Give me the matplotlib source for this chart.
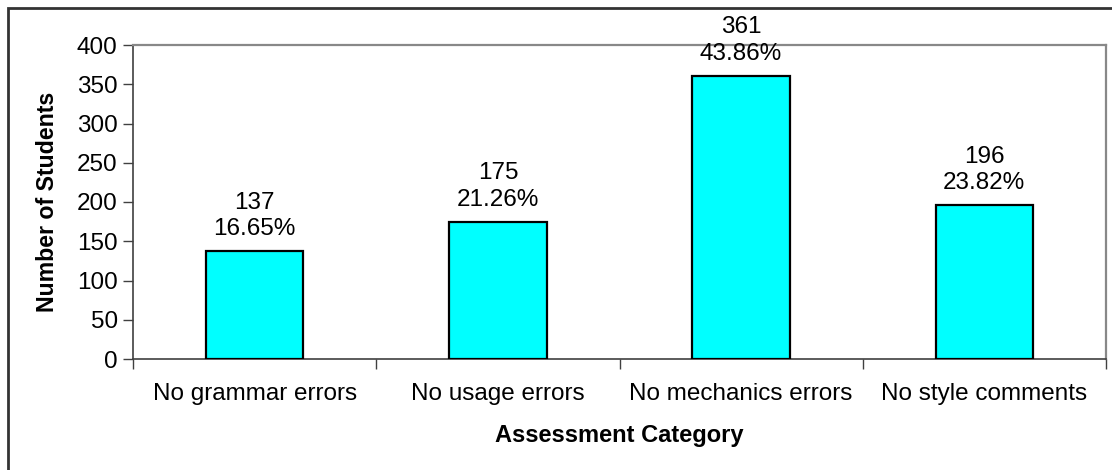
import matplotlib.pyplot as plt
from matplotlib.patches import Rectangle

categories = ["No grammar errors", "No usage errors",
              "No mechanics errors", "No style comments"]
students = [137, 175, 361, 196]
percents = [16.65, 21.26, 43.86, 23.82]
yticks = [0, 50, 100, 150, 200, 250, 300, 350, 400]

plt.rcParams["font.family"] = ["Liberation Sans", "DejaVu Sans"]

fig = plt.figure(figsize=(11.12, 4.70), dpi=100)
ax = fig.add_axes([133 / 1112, 1 - 359 / 470, 973 / 1112, 314 / 470])

# outer chart frame (runs off the right and bottom edges)
fig.patches.append(Rectangle((8 / 1112, -0.1), 1.2, 1.1 - 8 / 470,
                             transform=fig.transFigure, fill=False,
                             edgecolor="#333333", linewidth=2, zorder=0))

x = list(range(len(categories)))
ax.bar(x, students, width=0.4, color="#00FFFF", edgecolor="black",
       linewidth=1.6, zorder=3)

for xi, n, p in zip(x, students, percents):
    ax.annotate(f"{n}\n{p:.2f}%", (xi, n), xytext=(0, 8),
                textcoords="offset points", ha="center", va="bottom",
                fontsize=17.5, linespacing=1.25, annotation_clip=False)

ax.set_xlim(-0.5, len(categories) - 0.5)
ax.set_ylim(0, 400)
ax.set_yticks(yticks)
ax.set_xticks(x)
ax.set_xticklabels(categories)
ax.set_xticks([i - 0.5 for i in range(len(categories) + 1)], minor=True)
ax.tick_params(axis="x", which="major", length=0, pad=17, labelsize=17.5)
ax.tick_params(axis="x", which="minor", length=7, width=1, direction="out",
               color="#404040")
ax.tick_params(axis="y", length=7, width=1, direction="out", pad=4,
               labelsize=17.5, color="#404040")

for side in ("left", "bottom"):
    ax.spines[side].set_color("#404040")
    ax.spines[side].set_linewidth(1.2)
for side in ("top", "right"):
    ax.spines[side].set_color("#888888")
    ax.spines[side].set_linewidth(1.6)

ax.set_ylabel("Number of Students", fontsize=16.7, fontweight="bold", labelpad=13)
ax.set_xlabel("Assessment Category", fontsize=17, fontweight="bold", labelpad=14)

fig.savefig("out.png", dpi=100)
